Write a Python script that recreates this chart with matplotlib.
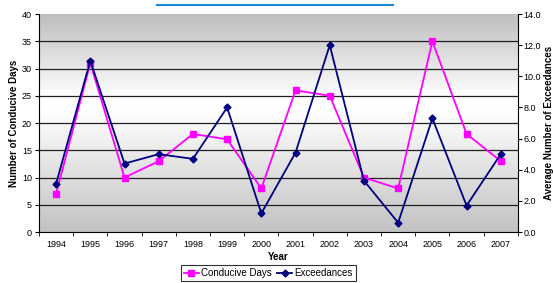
import matplotlib as mpl

mpl.use('Agg')
import matplotlib.pyplot as plt
from matplotlib.colors import LinearSegmentedColormap
import numpy as np

years = ['1994', '1995', '1996', '1997', '1998', '1999', '2000',
         '2001', '2002', '2003', '2004', '2005', '2006', '2007']
conducive_days = [7, 31, 10, 13, 18, 17, 8, 26, 25, 10, 8, 35, 18, 13]
exceedances = [3.1, 11.0, 4.4, 5.0, 4.7, 8.0, 1.2, 5.1, 12.0, 3.3, 0.6,
               7.3, 1.7, 5.0]

plt.rcParams['font.family'] = ['Liberation Sans', 'DejaVu Sans']

fig = plt.figure(figsize=(5.53, 2.83), dpi=100)
ax = fig.add_axes([0.0705, 0.180, 0.866, 0.7705])
ax2 = ax.twinx()

x = np.arange(len(years))
n = len(years)

# gradient fill of the plot area (grey - white - grey)
cmap = LinearSegmentedColormap.from_list(
    'bg', [(0.0, '#c2c2c2'), (0.55, '#ffffff'), (0.62, '#ffffff'),
           (1.0, '#bdbdbd')])
grad = np.linspace(0, 1, 256).reshape(-1, 1)
ax.imshow(grad, cmap=cmap, aspect='auto', origin='lower',
          extent=(-0.5, n - 0.5, 0, 40), zorder=0)

for yv in range(5, 40, 5):
    ax.axhline(yv, color='#202020', lw=0.9, zorder=1)

ax.plot(x, conducive_days, color='#ff00ff', lw=1.3, marker='s', ms=4,
        zorder=3, label='Conducive Days')
ax2.plot(x, exceedances, color='#000080', lw=1.3, marker='D', ms=3.5,
         zorder=3, label='Exceedances')

ax.set_xlim(-0.5, n - 0.5)
ax.set_ylim(0, 40)
ax.set_yticks(range(0, 41, 5))
ax2.set_ylim(0, 14)
ax2.set_yticks(np.arange(0, 14.1, 2))
ax2.set_yticklabels(['%.1f' % v for v in np.arange(0, 14.1, 2)])

ax.set_xticks(x)
ax.set_xticklabels(years)
ax.set_xticks(np.arange(-0.5, n, 1), minor=True)
ax.tick_params(axis='x', which='major', length=0, labelsize=6.5, pad=6)
ax.tick_params(axis='x', which='minor', length=3, direction='out')
ax.tick_params(axis='y', labelsize=6.5, length=3, pad=2)
ax2.tick_params(axis='y', labelsize=6.5, length=3, pad=1)

for a in (ax, ax2):
    a.spines['top'].set_visible(False)
ax2.spines['left'].set_visible(False)
ax2.spines['bottom'].set_visible(False)
ax.spines['right'].set_visible(False)

ax.set_ylabel('Number of Conducive Days', fontsize=7, fontweight='bold',
              labelpad=2)
ax2.set_ylabel('Average Number of Exceedances', fontsize=7,
               fontweight='bold', labelpad=2)
ax.set_xlabel('Year', fontsize=7, fontweight='bold', labelpad=2)

h1, l1 = ax.get_legend_handles_labels()
h2, l2 = ax2.get_legend_handles_labels()
leg = fig.legend(h1 + h2, l1 + l2, loc='lower center', ncol=2,
                 bbox_to_anchor=(0.485, 0.004), fontsize=7, frameon=True,
                 fancybox=False, edgecolor='black', borderpad=0.3,
                 borderaxespad=0.1, handlelength=1.6, handletextpad=0.2,
                 columnspacing=0.5)
leg.get_frame().set_linewidth(0.8)

# blue bar at the top of the chart
fig.add_artist(plt.Line2D([157 / 553, 393 / 553], [1 - 5 / 283, 1 - 5 / 283],
                          color='#1c8ad6', lw=1.5, transform=fig.transFigure))

plt.savefig('out.png', dpi=100)
